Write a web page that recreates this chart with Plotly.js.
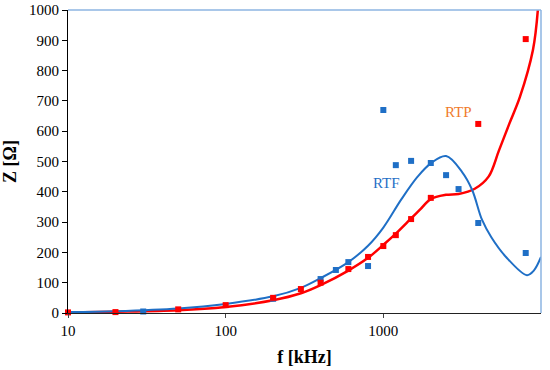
<!DOCTYPE html>
<html>
<head>
<meta charset="utf-8">
<script src="https://cdn.plot.ly/plotly-3.0.1.min.js"></script>
<style>html,body{margin:0;padding:0;background:#fff;}#chart{width:550px;height:370px;}</style>
</head>
<body>
<div id="chart"></div>
<script>
// Measured points
const rtpFreq = [10, 20, 50, 100, 200, 300, 400, 600, 800, 1000, 1200, 1500, 2000, 4000, 8000];
const rtpZ    = [2, 3, 12, 26, 50, 79, 100, 145, 185, 221, 257, 310, 380, 624, 904];
const rtfFreq = [30, 200, 400, 500, 600, 800, 1000, 1200, 1500, 2000, 2500, 3000, 4000, 8000];
const rtfZ    = [5, 47, 112, 142, 168, 155, 670, 488, 502, 495, 455, 409, 297, 198];
// Fitted curves
const rtpFitFreq = [10, 20, 50, 100, 200, 300, 400, 600, 800, 1000, 1200, 1500, 1700, 2000, 2500, 3000, 3800, 4650, 5400, 6300, 7350, 8890, 9550];
const rtpFitZ    = [2, 4, 9, 20, 42, 65, 92, 140, 182, 225, 262, 312, 340, 376, 390, 393, 410, 450, 535, 625, 713, 868, 1000];
const rtfFitFreq = [10, 20, 50, 100, 200, 300, 400, 600, 800, 1000, 1300, 1650, 2000, 2500, 3160, 3660, 4230, 4830, 6000, 8150, 9000, 10000];
const rtfFitZ    = [3, 6, 15, 30, 55, 83, 115, 168, 222, 282, 375, 450, 494, 518, 465, 406, 307, 251, 185, 125, 140, 185];
const xTickVals = [10, 100, 1000];
const xTickText = ['10', '100', '1000'];

const RED = '#FF0000', BLUE = '#1F6FC6', ORANGE = '#F07B2A';
const serif = "'Liberation Serif'";

const traces = [
  {x: rtpFitFreq, y: rtpFitZ, mode: 'lines', line: {color: RED, width: 2.5, shape: 'spline', smoothing: 1}, hoverinfo: 'skip'},
  {x: rtfFitFreq, y: rtfFitZ, mode: 'lines', line: {color: BLUE, width: 2, shape: 'spline', smoothing: 1}, hoverinfo: 'skip'},
  {x: rtfFreq, y: rtfZ, mode: 'markers', marker: {symbol: 'square', size: 6, color: BLUE}, cliponaxis: false},
  {x: rtpFreq, y: rtpZ, mode: 'markers', marker: {symbol: 'square', size: 6, color: RED}, cliponaxis: false}
];

const layout = {
  width: 550, height: 370,
  margin: {l: 68, r: 9, t: 10, b: 57},
  showlegend: false,
  paper_bgcolor: '#fff', plot_bgcolor: '#fff',
  font: {family: serif, color: '#000', size: 15},
  xaxis: {
    type: 'log', range: [1, 4],
    tickvals: xTickVals, ticktext: xTickText,
    showgrid: false, zeroline: false,
    showline: true, linecolor: '#222', linewidth: 1,
    ticks: 'outside', ticklen: 4, tickcolor: '#444',
    tickfont: {family: serif, size: 15, color: '#000'},
    title: {text: '<b>f [kHz]</b>', font: {family: serif, size: 18, color: '#000'}, standoff: 12}
  },
  yaxis: {
    range: [0, 1000], dtick: 100,
    showgrid: false, zeroline: false,
    showline: true, linecolor: '#000', linewidth: 1,
    ticks: 'outside', ticklen: 5, tickcolor: '#000',
    tickfont: {family: serif, size: 15, color: '#000'},
    title: {text: '<b>Z [Ω]</b>', font: {family: serif, size: 18, color: '#000'}, standoff: 10}
  },
  shapes: [
    {type: 'line', xref: 'paper', yref: 'paper', x0: 0, x1: 1, y0: 1, y1: 1, line: {color: '#8DB4E2', width: 1.5}},
    {type: 'line', xref: 'paper', yref: 'paper', x0: 1, x1: 1, y0: 0, y1: 1, line: {color: '#8DB4E2', width: 1.5}}
  ],
  annotations: [
    {x: Math.log10(3000), y: 665, xref: 'x', yref: 'y', text: 'RTP', showarrow: false, font: {family: serif, size: 15, color: ORANGE}},
    {x: Math.log10(1050), y: 430, xref: 'x', yref: 'y', text: 'RTF', showarrow: false, font: {family: serif, size: 15, color: BLUE}}
  ]
};

Plotly.newPlot('chart', traces, layout, {displayModeBar: false, staticPlot: true});
</script>
</body>
</html>
